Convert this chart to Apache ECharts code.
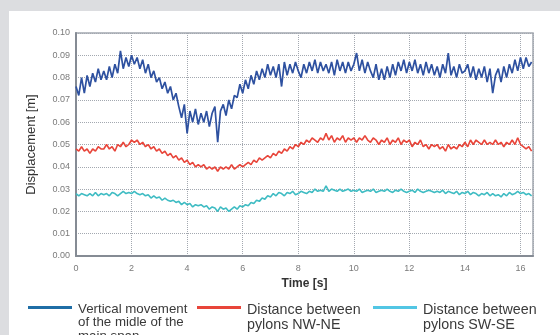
<!DOCTYPE html>
<html>
<head>
<meta charset="utf-8">
<script src="https://cdn.jsdelivr.net/npm/echarts@6/dist/echarts.min.js"></script>
<style>
  html, body { margin: 0; padding: 0; background: #dcdde0; }
  #chart { width: 560px; height: 335px; }
</style>
</head>
<body>
<div id="chart"></div>
<script>
// sampling step of the traces [s]
var sampleStep = 0.1;

// vertical movement of the midle of the main span [m]
var spanValues = [
  0.076, 0.072, 0.080, 0.073, 0.081, 0.076, 0.082, 0.078, 0.084, 0.079,
  0.083, 0.079, 0.085, 0.080, 0.086, 0.082, 0.092, 0.084, 0.089, 0.085,
  0.090, 0.086, 0.089, 0.084, 0.088, 0.082, 0.086, 0.080, 0.083, 0.078,
  0.080, 0.075, 0.078, 0.073, 0.076, 0.070, 0.073, 0.067, 0.062, 0.068,
  0.055, 0.065, 0.060, 0.066, 0.059, 0.064, 0.060, 0.065, 0.058, 0.064,
  0.067, 0.051, 0.065, 0.068, 0.063, 0.070, 0.066, 0.072, 0.071, 0.077,
  0.073, 0.079, 0.075, 0.081, 0.077, 0.083, 0.079, 0.084, 0.080, 0.086,
  0.081, 0.085, 0.080, 0.086, 0.076, 0.087, 0.081, 0.086, 0.082, 0.087,
  0.083, 0.080, 0.086, 0.082, 0.087, 0.083, 0.088, 0.082, 0.087, 0.083,
  0.086, 0.082, 0.087, 0.081, 0.088, 0.083, 0.087, 0.082, 0.087, 0.083,
  0.086, 0.091, 0.083, 0.088, 0.082, 0.087, 0.083, 0.080, 0.086, 0.079,
  0.084, 0.079, 0.085, 0.080, 0.086, 0.081, 0.087, 0.083, 0.088, 0.082,
  0.087, 0.083, 0.088, 0.082, 0.086, 0.081, 0.087, 0.082, 0.086, 0.081,
  0.085, 0.080, 0.086, 0.082, 0.091, 0.081, 0.085, 0.080, 0.086, 0.082,
  0.083, 0.086, 0.080, 0.085, 0.079, 0.084, 0.080, 0.085, 0.078, 0.084,
  0.073, 0.081, 0.084, 0.078, 0.085, 0.080, 0.086, 0.082, 0.088, 0.083,
  0.089, 0.084, 0.089, 0.085, 0.087
];

// distance between pylons NW-NE [m]
var nwneValues = [
  0.048, 0.047, 0.049, 0.047, 0.048, 0.046, 0.048, 0.047, 0.049, 0.048,
  0.048, 0.050, 0.048, 0.049, 0.047, 0.050, 0.049, 0.051, 0.049, 0.050,
  0.052, 0.051, 0.052, 0.050, 0.051, 0.049, 0.050, 0.048, 0.049, 0.047,
  0.048, 0.046, 0.047, 0.045, 0.046, 0.044, 0.045, 0.043, 0.044, 0.042,
  0.043, 0.041, 0.042, 0.040, 0.041, 0.040, 0.041, 0.039, 0.040, 0.039,
  0.040, 0.038, 0.040, 0.039, 0.040, 0.039, 0.041, 0.039, 0.040, 0.041,
  0.040, 0.041, 0.042, 0.041, 0.043, 0.042, 0.044, 0.043, 0.044, 0.045,
  0.044, 0.046, 0.045, 0.047, 0.046, 0.048, 0.047, 0.049, 0.048, 0.050,
  0.049, 0.051, 0.050, 0.052, 0.051, 0.053, 0.052, 0.051, 0.053, 0.052,
  0.055, 0.052, 0.054, 0.051, 0.053, 0.052, 0.054, 0.051, 0.053, 0.052,
  0.053, 0.051, 0.053, 0.052, 0.054, 0.052, 0.051, 0.053, 0.052, 0.050,
  0.052, 0.051, 0.053, 0.050, 0.052, 0.051, 0.053, 0.050, 0.052, 0.051,
  0.052, 0.049, 0.051, 0.050, 0.052, 0.049, 0.050, 0.048, 0.050, 0.049,
  0.050, 0.048, 0.049, 0.047, 0.050, 0.048, 0.049, 0.048, 0.050, 0.049,
  0.051, 0.049, 0.052, 0.050, 0.052, 0.051, 0.050, 0.052, 0.050, 0.051,
  0.050, 0.052, 0.050, 0.051, 0.049, 0.051, 0.050, 0.052, 0.050, 0.053,
  0.050, 0.049, 0.048, 0.049, 0.047
];

// distance between pylons SW-SE [m]
var swseValues = [
  0.028, 0.027, 0.028, 0.0275, 0.027, 0.028, 0.027, 0.0285, 0.027, 0.028,
  0.0275, 0.028, 0.027, 0.0285, 0.028, 0.027, 0.028, 0.029, 0.028, 0.0285,
  0.028, 0.029, 0.028, 0.0275, 0.028, 0.027, 0.0275, 0.026, 0.027, 0.026,
  0.0265, 0.025, 0.026, 0.025, 0.0245, 0.025, 0.024, 0.0245, 0.023, 0.024,
  0.023, 0.0235, 0.022, 0.023, 0.0225, 0.023, 0.022, 0.0225, 0.021, 0.022,
  0.0215, 0.020, 0.022, 0.021, 0.0215, 0.020, 0.021, 0.022, 0.021, 0.0225,
  0.022, 0.023, 0.0225, 0.024, 0.0235, 0.025, 0.0245, 0.026, 0.0255, 0.027,
  0.0265, 0.028, 0.027, 0.0285, 0.028, 0.027, 0.0285, 0.028, 0.029, 0.0275,
  0.028, 0.029, 0.0285, 0.028, 0.029, 0.0285, 0.030, 0.029, 0.0295, 0.029,
  0.0315, 0.029, 0.030, 0.0295, 0.029, 0.030, 0.029, 0.0295, 0.030, 0.029,
  0.0295, 0.029, 0.030, 0.0285, 0.029, 0.0295, 0.029, 0.030, 0.0285, 0.029,
  0.0295, 0.029, 0.030, 0.029, 0.0285, 0.0295, 0.029, 0.030, 0.029, 0.0285,
  0.029, 0.0295, 0.0285, 0.030, 0.029, 0.0285, 0.029, 0.0295, 0.029, 0.0285,
  0.029, 0.0285, 0.0295, 0.028, 0.029, 0.0285, 0.028, 0.029, 0.0275, 0.0285,
  0.028, 0.029, 0.0275, 0.0285, 0.028, 0.027, 0.028, 0.0275, 0.0285, 0.027,
  0.028, 0.027, 0.0275, 0.0265, 0.028, 0.027, 0.0285, 0.0275, 0.028, 0.029,
  0.028, 0.0285, 0.0275, 0.028, 0.027
];

var timeTicks = [0, 2, 4, 6, 8, 10, 12, 14, 16];

// [time, value] pairs
function toPairs(values) {
  return values.map(function (v, i) {
    return [+(i * sampleStep).toFixed(1), v];
  });
}

var font = '"Liberation Sans", Arial, sans-serif';

// legend drawn by hand so the line sits next to the first text row
function legendItem(x, color, text, size, lh) {
  return [{
    type: 'rect',
    left: x, top: 306,
    shape: { width: 44, height: 3 },
    style: { fill: color }
  }, {
    type: 'text',
    left: x + 50, top: 303 - (size - 13) / 2,
    style: { text: text, fill: '#3a3a3a', font: size + 'px ' + font, lineHeight: lh }
  }];
}

var chart = echarts.init(document.getElementById('chart'));
var option = {
  backgroundColor: '#dcdde0',
  animation: false,
  graphic: [{
    type: 'rect',
    left: 9, top: 11, z: -10,
    shape: { width: 560, height: 330 },
    style: { fill: '#ffffff' }
  }].concat(
    legendItem(28, '#1f6ea6', 'Vertical movement\nof the midle of the\nmain span', 13.3, 13.3),
    legendItem(197, '#e8453a', 'Distance between\npylons NW-NE', 14.3, 15),
    legendItem(373, '#52c6e4', 'Distance between\npylons SW-SE', 14.3, 15)
  ),
  grid: {
    left: 76,
    right: 27,
    top: 33,
    bottom: 79,
    show: true,
    borderColor: '#a3a8b0',
    borderWidth: 1.5,
    backgroundColor: '#ffffff'
  },
  xAxis: {
    type: 'value',
    min: 0,
    max: 16.45,
    interval: 2,
    name: 'Time [s]',
    nameLocation: 'middle',
    nameGap: 18,
    nameTextStyle: { fontFamily: font, fontSize: 12, fontWeight: 'bold', color: '#333' },
    axisLine: { show: true, onZero: false, lineStyle: { color: '#858b94', width: 2 } },
    axisTick: { show: false },
    axisLabel: {
      fontFamily: font, fontSize: 9, color: '#7a7a7a', margin: 8,
      formatter: function (v) { return timeTicks.indexOf(v) >= 0 ? String(v) : ''; }
    },
    splitLine: { show: true, lineStyle: { color: '#a3a8b0', type: 'dotted', width: 1 } }
  },
  yAxis: {
    type: 'value',
    min: 0,
    max: 0.1,
    interval: 0.01,
    name: 'Displacement [m]',
    nameLocation: 'middle',
    nameGap: 38,
    nameTextStyle: { fontFamily: font, fontSize: 13, color: '#333' },
    axisLine: { show: true, lineStyle: { color: '#858b94', width: 2 } },
    axisTick: { show: false },
    axisLabel: {
      fontFamily: font, fontSize: 9, color: '#7a7a7a', margin: 6,
      formatter: function (v) { return v.toFixed(2); }
    },
    splitLine: { show: true, lineStyle: { color: '#a3a8b0', type: 'dotted', width: 1 } }
  },
  series: [{
    name: 'Vertical movement of the midle of the main span',
    type: 'line',
    data: toPairs(spanValues),
    showSymbol: false,
    lineStyle: { color: '#2e51a0', width: 1.7 },
    z: 3
  }, {
    name: 'Distance between pylons NW-NE',
    type: 'line',
    data: toPairs(nwneValues),
    showSymbol: false,
    lineStyle: { color: '#e8453a', width: 1.6 }
  }, {
    name: 'Distance between pylons SW-SE',
    type: 'line',
    data: toPairs(swseValues),
    showSymbol: false,
    lineStyle: { color: '#3fbcc3', width: 1.6 }
  }]
};
chart.setOption(option);
</script>
</body>
</html>
